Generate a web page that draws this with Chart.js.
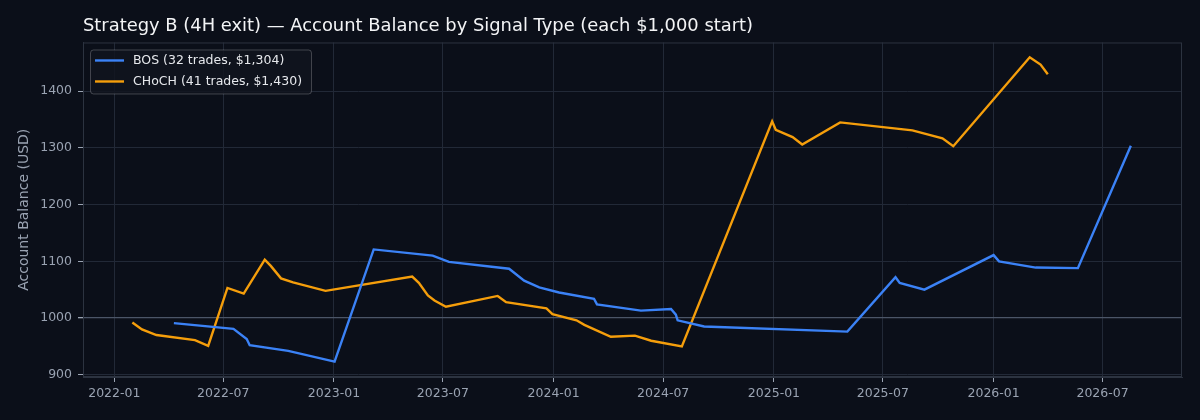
<!DOCTYPE html>
<html>
<head>
    <title>Strategy B - Account Balance by Signal Type</title>
    <script src="https://cdn.jsdelivr.net/npm/chart.js"></script>
    <style>
        html, body {
            margin: 0;
            padding: 0;
            background-color: #0b0f19;
        }
        .chart-container {
            width: 1200px;
            height: 420px;
        }
    </style>
</head>
<body>
    <div class="chart-container">
        <canvas id="balanceChart"></canvas>
    </div>

    <script>
        // BOS signals
        const bosDates = ['2022-04-10', '2022-07-18', '2022-08-09', '2022-08-14', '2022-10-17', '2023-01-02',
            '2023-03-08', '2023-06-14', '2023-07-11', '2023-10-19', '2023-11-13', '2023-12-08', '2024-01-10',
            '2024-03-08', '2024-03-13', '2024-05-25', '2024-07-14', '2024-07-22', '2024-07-25', '2024-09-07',
            '2025-05-03', '2025-07-22', '2025-07-29', '2025-09-08', '2026-01-01', '2026-01-10', '2026-03-12',
            '2026-05-21', '2026-08-17'];
        const bosBalance = [991, 981, 963, 952, 942, 923,
            1121, 1110, 1099, 1087, 1066, 1054, 1045,
            1034, 1024, 1013, 1016, 1006, 996, 985,
            976, 1072, 1062, 1050, 1111, 1100, 1089,
            1088, 1304];

        // CHoCH signals
        const chochDates = ['2022-01-31', '2022-02-16', '2022-03-12', '2022-05-15', '2022-06-06', '2022-07-08',
            '2022-08-04', '2022-09-08', '2022-09-18', '2022-10-05', '2022-10-25', '2022-12-18', '2023-05-11',
            '2023-05-22', '2023-06-06', '2023-06-17', '2023-07-06', '2023-09-30', '2023-10-14', '2023-12-20',
            '2023-12-30', '2024-02-08', '2024-02-21', '2024-04-05', '2024-05-15', '2024-06-11', '2024-08-01',
            '2024-12-29', '2025-01-04', '2025-02-01', '2025-02-17', '2025-04-21', '2025-08-19', '2025-10-08',
            '2025-10-26', '2026-03-02', '2026-03-20', '2026-04-01'];
        const chochBalance = [992, 980, 970, 961, 951, 1053,
            1043, 1103, 1092, 1070, 1063, 1048, 1073,
            1062, 1040, 1031, 1020, 1039, 1028, 1017,
            1007, 996, 988, 967, 969, 960, 950,
            1347, 1332, 1319, 1306, 1345, 1331, 1317,
            1303, 1460, 1447, 1430];

        const seriesLabels = ['BOS (32 trades, $1,304)', 'CHoCH (41 trades, $1,430)'];
        const xTickDates = ['2022-01-01', '2022-07-01', '2023-01-01', '2023-07-01', '2024-01-01',
            '2024-07-01', '2025-01-01', '2025-07-01', '2026-01-01', '2026-07-01'];
        const xTickLabels = ['2022-01', '2022-07', '2023-01', '2023-07', '2024-01',
            '2024-07', '2025-01', '2025-07', '2026-01', '2026-07'];
        const yTicks = [900, 1000, 1100, 1200, 1300, 1400];

        const xMin = Date.parse('2021-11-10');
        const xMax = Date.parse('2026-11-10');
        const xTickValues = xTickDates.map(d => Date.parse(d));

        function toPoints(dates, values) {
            return dates.map((d, i) => ({ x: Date.parse(d), y: values[i] }));
        }

        // background, frame and legend box
        const framePlugin = {
            id: 'frame',
            beforeDraw(chart) {
                const ctx = chart.ctx;
                ctx.save();
                ctx.fillStyle = '#0b0f19';
                ctx.fillRect(0, 0, chart.width, chart.height);
                ctx.restore();
            },
            afterDatasetsDraw(chart) {
                const { ctx, chartArea } = chart;
                ctx.save();
                ctx.strokeStyle = '#2c3340';
                ctx.lineWidth = 1;
                ctx.strokeRect(chartArea.left + 0.5, chartArea.top + 0.5,
                    chartArea.right - chartArea.left - 1, chartArea.bottom - chartArea.top - 1);

                // legend
                ctx.font = '12.5px "DejaVu Sans"';
                const textW = Math.max(...chart.data.datasets.map(ds => ctx.measureText(ds.label).width));
                const bx = chartArea.left + 7;
                const by = chartArea.top + 7;
                const bw = textW + 52;
                const bh = 44;
                ctx.beginPath();
                ctx.roundRect(bx + 0.5, by + 0.5, bw, bh, 3);
                ctx.fillStyle = 'rgba(16,20,30,0.85)';
                ctx.fill();
                ctx.strokeStyle = 'rgba(255,255,255,0.22)';
                ctx.stroke();
                chart.data.datasets.forEach((ds, i) => {
                    const ly = by + 11 + i * 21;
                    ctx.strokeStyle = ds.borderColor;
                    ctx.lineWidth = 2.4;
                    ctx.beginPath();
                    ctx.moveTo(bx + 5, ly);
                    ctx.lineTo(bx + 34, ly);
                    ctx.stroke();
                    ctx.fillStyle = '#e6e8ec';
                    ctx.textBaseline = 'middle';
                    ctx.fillText(ds.label, bx + 43, ly);
                });
                ctx.restore();
            }
        };

        const ctx = document.getElementById('balanceChart').getContext('2d');
        const balanceChart = new Chart(ctx, {
            type: 'line',
            data: {
                datasets: [
                    {
                        label: seriesLabels[0],
                        data: toPoints(bosDates, bosBalance),
                        borderColor: '#3b82f6',
                        borderWidth: 2.4,
                        pointRadius: 0,
                        tension: 0
                    },
                    {
                        label: seriesLabels[1],
                        data: toPoints(chochDates, chochBalance),
                        borderColor: '#f59e0b',
                        borderWidth: 2.4,
                        pointRadius: 0,
                        tension: 0
                    }
                ]
            },
            options: {
                responsive: true,
                maintainAspectRatio: false,
                animation: false,
                layout: {
                    padding: { left: 0, right: 18, top: 0, bottom: 0 }
                },
                plugins: {
                    legend: { display: false },
                    tooltip: { enabled: false },
                    title: {
                        display: true,
                        text: 'Strategy B (4H exit) \u2014 Account Balance by Signal Type (each $1,000 start)',
                        align: 'start',
                        fullSize: false,
                        color: '#f3f4f6',
                        font: { family: '"DejaVu Sans"', size: 17.9, weight: 'normal' },
                        padding: { top: 16, bottom: 5 }
                    }
                },
                scales: {
                    x: {
                        type: 'linear',
                        min: xMin,
                        max: xMax,
                        afterBuildTicks: scale => {
                            scale.ticks = xTickValues.map(v => ({ value: v }));
                        },
                        afterFit: scale => {
                            scale.height = 43;
                        },
                        ticks: {
                            color: '#9aa3b2',
                            font: { family: '"DejaVu Sans"', size: 12.5 },
                            padding: 4,
                            maxRotation: 0,
                            callback: value => xTickLabels[xTickValues.indexOf(value)]
                        },
                        grid: {
                            color: '#222937',
                            tickColor: '#9aa3b2',
                            tickLength: 5
                        },
                        border: { display: true, color: '#2c3340' }
                    },
                    y: {
                        min: 896,
                        max: 1486,
                        afterBuildTicks: scale => {
                            scale.ticks = yTicks.map(v => ({ value: v }));
                        },
                        afterFit: scale => {
                            scale.width = 83;
                        },
                        title: {
                            display: true,
                            text: 'Account Balance (USD)',
                            color: '#9aa3b2',
                            font: { family: '"DejaVu Sans"', size: 14 },
                            padding: { top: 16, bottom: 0 }
                        },
                        ticks: {
                            color: '#9aa3b2',
                            font: { family: '"DejaVu Sans"', size: 12.5 },
                            padding: 6,
                            callback: value => String(value)
                        },
                        grid: {
                            color: c => c.tick && c.tick.value === 1000 ? '#4b5567' : '#222937',
                            lineWidth: c => c.tick && c.tick.value === 1000 ? 1.3 : 1,
                            tickColor: '#9aa3b2',
                            tickLength: 5
                        },
                        border: { display: true, color: '#2c3340' }
                    }
                }
            },
            plugins: [framePlugin]
        });
    </script>
</body>
</html>
